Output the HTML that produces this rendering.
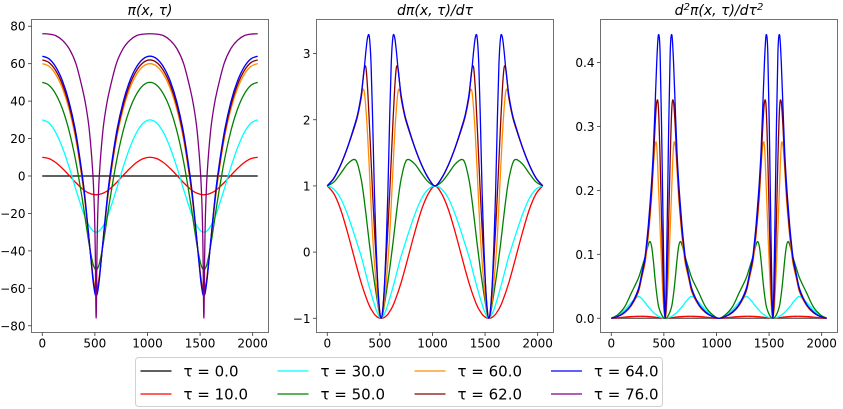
<!DOCTYPE html>
<html><head><meta charset="utf-8"><style>
html,body{margin:0;padding:0;background:#fff;}
svg{display:block;font-family:"DejaVu Sans","Liberation Sans",sans-serif;}
</style></head><body>
<svg id="fig" width="843" height="409" viewBox="0 0 843 409"></svg>
<script>
// ---- data (half period samples, mirrored around x=512 and repeated every 1024) ----
const tauLabels = ["0.0","10.0","30.0","50.0","60.0","62.0","64.0","76.0"];
const colors = ["black","red","cyan","green","darkorange","darkred","blue","purple"];

const xs1 = [0,64,128,192,256,320,384,416,448,480,496,504,512];
const p1_t0  = [0,0,0,0,0,0,0,0,0,0,0,0,0];
const p1_t10 = [10,9.3,7.2,4.0,0.3,-3.6,-7.0,-8.3,-9.2,-9.8,-9.95,-9.99,-10];
const p1_t30 = [30,28.3,23.2,15.1,4.6,-7.3,-18.5,-23.2,-26.9,-29.2,-29.8,-29.95,-30];
const p1_t50 = [50,48.5,43.8,35.8,23.9,7.5,-13.7,-25.7,-37.4,-46.5,-49.1,-49.8,-50];
const p1_t60 = [60,58.6,54.3,46.8,35.5,19.2,-4.0,-18.9,-36.0,-52.4,-57.9,-59.4,-60];
const p1_t62 = [62,60.6,56.3,48.8,37.4,21.0,-2.6,-17.9,-35.9,-53.6,-59.6,-61.4,-62];
const p1_t64 = [64,62.6,58.3,50.8,39.4,22.8,-1.1,-16.9,-35.6,-54.6,-61.3,-63.4,-64];
const p1_t76 = [76,75.8,75.0,72.5,68,60,46,37,24,1.8,-19,-41,-76];

const xs2 = [0,64,128,192,256,288,320,336,352,368,384,400,416,432,448,464,480,496,512];
const p2_t10 = [1,.88,.64,.30,-.08,-.27,-.45,-.53,-.61,-.68,-.75,-.81,-.86,-.90,-.94,-.965,-.985,-.997,-1];
const p2_t30 = [1,.95,.81,.57,.27,.11,-.05,-.14,-.24,-.34,-.44,-.53,-.62,-.71,-.79,-.87,-.93,-.98,-1];
const p2_t50 = [1,1.06,1.19,1.33,1.40,1.33,1.12,.97,.78,.57,.35,.13,-.07,-.27,-.45,-.62,-.78,-.93,-1];
const p2_t60 = [1,1.12,1.32,1.58,1.88,2.05,2.3,2.45,2.42,2.15,1.75,1.25,.72,.22,-.15,-.47,-.72,-.92,-1];
const p2_t62 = [1,1.12,1.32,1.58,1.88,2.06,2.32,2.55,2.78,2.78,2.45,1.95,1.40,.85,.35,-.1,-.5,-.85,-1];
const p2_t64 = [1,1.12,1.32,1.58,1.90,2.08,2.35,2.55,2.78,3.05,3.25,3.25,2.85,1.95,.9,.1,-.5,-.88,-1];

const xs3 = [0,64,128,192,256,288,320,336,352,368,384,400,416,432,448,464,480,496,512];
const p3_t0  = [0,0,0,0,0,0,0,0,0,0,0,0,0,0,0,0,0,0,0];
const p3_t10 = [0,.0008,.0018,.0027,.0031,.0031,.003,.0029,.0027,.0025,.0023,.002,.0017,.0013,.001,.0007,.0004,.0001,0];
const p3_t30 = [0,.005,.013,.025,.034,.031,.025,.021,.018,.015,.012,.009,.007,.005,.003,.002,.001,.0003,0];
const p3_t50 = [0,.006,.018,.040,.062,.078,.095,.105,.115,.12,.112,.09,.062,.038,.02,.011,.005,.001,0];
const p3_t60 = [0,.003,.009,.02,.04,.062,.085,.105,.128,.157,.19,.235,.27,.27,.21,.14,.075,.022,0];
const p3_t62 = [0,.003,.009,.021,.042,.065,.09,.112,.135,.165,.20,.245,.30,.338,.33,.25,.14,.045,0];
const p3_t64 = [0,.003,.010,.022,.045,.068,.095,.118,.145,.178,.215,.262,.33,.40,.443,.415,.28,.11,0];

const xTicks = [0,500,1000,1500,2000];
const y1Ticks = [-80,-60,-40,-20,0,20,40,60,80];
const y2Ticks = [-1,0,1,2,3];
const y3Ticks = [0,0.1,0.2,0.3,0.4];

const NS = "http://www.w3.org/2000/svg";
const svg = document.getElementById("fig");
function mk(tag, attrs, parent){
  const e = document.createElementNS(NS, tag);
  for (const k in attrs) e.setAttribute(k, attrs[k]);
  (parent||svg).appendChild(e);
  return e;
}
function expand(xs, vs){
  const pts = [];
  for (let k=0;k<2;k++){
    for (let i=0;i<xs.length;i++) pts.push([k*1024+xs[i], vs[i]]);
    for (let i=xs.length-2;i>=0;i--) pts.push([k*1024+1024-xs[i], vs[i]]);
  }
  const out=[]; pts.sort((a,b)=>a[0]-b[0]);
  for (const p of pts){ if(!out.length||out[out.length-1][0]!==p[0]) out.push(p); }
  return out;
}
function pathCR(pp){
  let d = "M"+pp[0][0].toFixed(2)+","+pp[0][1].toFixed(2);
  for (let i=0;i<pp.length-1;i++){
    const p0=pp[Math.max(0,i-1)], p1=pp[i], p2=pp[i+1], p3=pp[Math.min(pp.length-1,i+2)];
    const c1=[p1[0]+(p2[0]-p0[0])/6, p1[1]+(p2[1]-p0[1])/6];
    const c2=[p2[0]-(p3[0]-p1[0])/6, p2[1]-(p3[1]-p1[1])/6];
    d+=" C"+c1[0].toFixed(2)+","+c1[1].toFixed(2)+" "+c2[0].toFixed(2)+","+c2[1].toFixed(2)+" "+p2[0].toFixed(2)+","+p2[1].toFixed(2);
  }
  return d;
}
function panel(opt){
  const g = mk("g",{});
  
  
  const L=opt.left, R=opt.left+237, T=19.5, B=332.5;
  const xmin=-102.4, xmax=2150.4;
  const sx = v => L + (v-xmin)/(xmax-xmin)*(R-L);
  const sy = v => B - (v-opt.ymin)/(opt.ymax-opt.ymin)*(B-T);
  const clip = mk("clipPath",{id:"c"+opt.name},g);
  mk("rect",{x:L,y:T,width:R-L,height:B-T},clip);
  const lines = mk("g",{"clip-path":"url(#c"+opt.name+")"},g);
  opt.series.forEach(s=>{
    const pts = expand(opt.xs, s.v).map(p=>[sx(p[0]), sy(p[1])]);
    const p = mk("path",{d:pathCR(pts),fill:"none",stroke:s.c,"stroke-width":1.3},lines);
    
    
  });
  const fr = mk("rect",{x:L,y:T,width:R-L,height:B-T,fill:"none",stroke:"#707070","stroke-width":1},g);
  
  
  xTicks.forEach(t=>{
    const x=sx(t);
    mk("line",{x1:x,x2:x,y1:B,y2:B+3.5,stroke:"#333","stroke-width":0.8},g);
    const tx = mk("text",{x:x,y:B+15,"font-size":12,"text-anchor":"middle",fill:"#000"},g);
    tx.textContent = String(t);
    
    
  });
  opt.yt.forEach(t=>{
    const y=sy(t);
    mk("line",{x1:L-3.5,x2:L,y1:y,y2:y,stroke:"#333","stroke-width":0.8},g);
    const tx = mk("text",{x:L-6,y:y+4.5,"font-size":12,"text-anchor":"end",fill:"#000"},g);
    tx.textContent = (t<0?"\u2212":"")+Math.abs(t).toFixed(opt.dec);
    
    
  });
  const ti = mk("text",{x:(L+R)/2,y:15,"font-size":14,"text-anchor":"middle","font-style":"italic",fill:"#000"},g);
  ti.innerHTML = opt.title;
  
  
}
panel({name:"panel-pi",left:31.5,ymin:-83.6,ymax:83.6,xs:xs1,yt:y1Ticks,dec:0,
  title:"π(x, τ)",
  series:[{v:p1_t0,c:colors[0],n:"0"},{v:p1_t10,c:colors[1],n:"10"},{v:p1_t30,c:colors[2],n:"30"},
  {v:p1_t50,c:colors[3],n:"50"},{v:p1_t60,c:colors[4],n:"60"},{v:p1_t62,c:colors[5],n:"62"},
  {v:p1_t64,c:colors[6],n:"64"},{v:p1_t76,c:colors[7],n:"76"}]});
panel({name:"panel-dpi",left:316.5,ymin:-1.215,ymax:3.515,xs:xs2,yt:y2Ticks,dec:0,
  title:"dπ(x, τ)/dτ",
  series:[{v:p2_t10,c:colors[1],n:"10"},{v:p2_t30,c:colors[2],n:"30"},
  {v:p2_t50,c:colors[3],n:"50"},{v:p2_t60,c:colors[4],n:"60"},{v:p2_t62,c:colors[5],n:"62"},
  {v:p2_t64,c:colors[6],n:"64"}]});
panel({name:"panel-d2pi",left:600.5,ymin:-0.02225,ymax:0.46725,xs:xs3,yt:y3Ticks,dec:1,
  title:"d<tspan baseline-shift=\"super\" font-size=\"10\">2</tspan>π(x, τ)/dτ<tspan baseline-shift=\"super\" font-size=\"10\">2</tspan>",
  series:[{v:p3_t0,c:"#555",n:"0"},{v:p3_t10,c:colors[1],n:"10"},{v:p3_t30,c:colors[2],n:"30"},
  {v:p3_t50,c:colors[3],n:"50"},{v:p3_t60,c:colors[4],n:"60"},{v:p3_t62,c:colors[5],n:"62"},
  {v:p3_t64,c:colors[6],n:"64"}]});

// legend
const lg = mk("g",{});


mk("rect",{x:135.5,y:357.5,width:527,height:49,rx:3,fill:"#fff",stroke:"#d0d0d0","stroke-width":1},lg);
const colX = [140.5,277.5,414.5,551];
const rowY = [371,394];
for (let i=0;i<8;i++){
  const cx = colX[Math.floor(i/2)], cy = rowY[i%2];
  const e = mk("g",{},lg);
  
  
  mk("line",{x1:cx,x2:cx+31,y1:cy,y2:cy,stroke:colors[i],"stroke-width":1.3},e);
  const t = mk("text",{x:cx+43,y:cy+5.5,"font-size":15,fill:"#000"},e);
  t.textContent = "\u03c4 = "+tauLabels[i];
}
</script>
</body></html>
